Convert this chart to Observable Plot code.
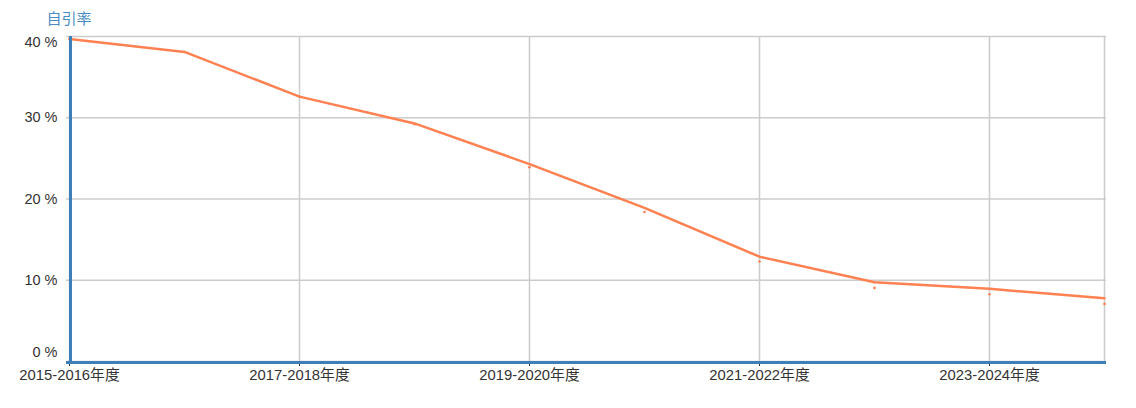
<!DOCTYPE html>
<html>
<head>
<meta charset="utf-8">
<script src="https://cdn.jsdelivr.net/npm/d3@7"></script>
<script src="https://cdn.jsdelivr.net/npm/@observablehq/plot@0.6"></script>
<style>
  html, body { margin: 0; padding: 0; background: #fff; }
  #chart svg { display: block; }
</style>
</head>
<body>
<div id="chart"></div>
<script>
const years = ["2015-2016年度","2016-2017年度","2017-2018年度","2018-2019年度","2019-2020年度","2020-2021年度","2021-2022年度","2022-2023年度","2023-2024年度","2024-2025年度"];
const lineValues = [39.7, 38.1, 32.6, 29.3, 24.3, 18.9, 12.9, 9.75, 8.94, 7.78];
const dotValues = [39.7, 38.1, 32.6, 29.2, 23.9, 18.4, 12.3, 9.06, 8.27, 7.09];
const labeledYears = ["2015-2016年度","2017-2018年度","2019-2020年度","2021-2022年度","2023-2024年度"];
const gridYears = [...labeledYears, "2024-2025年度"];
const yMidTicks = [10, 20, 30];
const title = "自引率";

const lineData = years.map((y, i) => ({year: y, value: lineValues[i]}));
const dotData = years.map((y, i) => ({year: y, value: dotValues[i]}));

const blue = "#3d80b9";
const orange = "#ff8050";
const fmt = d => d + " %";
const font = "'Liberation Sans', Arial, 'Noto Sans CJK SC', sans-serif";

const chart = Plot.plot({
  width: 1136,
  height: 408,
  marginLeft: 66,
  marginRight: 30,
  marginTop: 36,
  marginBottom: 47,
  style: {fontFamily: font, fontSize: "14px", color: "#333", background: "#fff"},
  x: {type: "point", domain: years, padding: 0, label: null},
  y: {domain: [0, 40], label: null},
  marks: [
    Plot.gridY([0, 10, 20, 30, 40], {stroke: "#cccccc", strokeOpacity: 1, strokeWidth: 1.5}),
    Plot.gridX(gridYears, {stroke: "#cccccc", strokeOpacity: 1, strokeWidth: 1.5}),
    Plot.axisY(yMidTicks, {tickSize: 0, tickPadding: 9, tickFormat: fmt, fill: "#333", fontSize: 14.5, label: null}),
    Plot.axisY([40], {tickSize: 0, tickPadding: 9, tickFormat: fmt, fill: "#333", fontSize: 14.5, dy: 6, label: null}),
    Plot.axisY([0], {tickSize: 0, tickPadding: 9, tickFormat: fmt, fill: "#333", fontSize: 14.5, dy: -9, label: null}),
    Plot.axisX(labeledYears, {tickSize: 5, tickPadding: 3, stroke: "#333", fill: "#333", fontSize: 14.8, label: null}),
    Plot.dot(dotData, {x: "year", y: "value", r: 1.3, fill: orange, stroke: "none"}),
    Plot.line(lineData, {x: "year", y: "value", stroke: orange, strokeWidth: 2.5}),
    Plot.ruleX([years[0]], {stroke: blue, strokeWidth: 3, dx: 1}),
    Plot.ruleY([0], {stroke: blue, strokeWidth: 3, dy: 1}),
    Plot.text([title], {frameAnchor: "top-left", dx: -20, dy: -23, textAnchor: "start", fill: "#4a8bc4", fontSize: 15, text: d => d})
  ]
});
document.getElementById("chart").appendChild(chart);
</script>
</body>
</html>
